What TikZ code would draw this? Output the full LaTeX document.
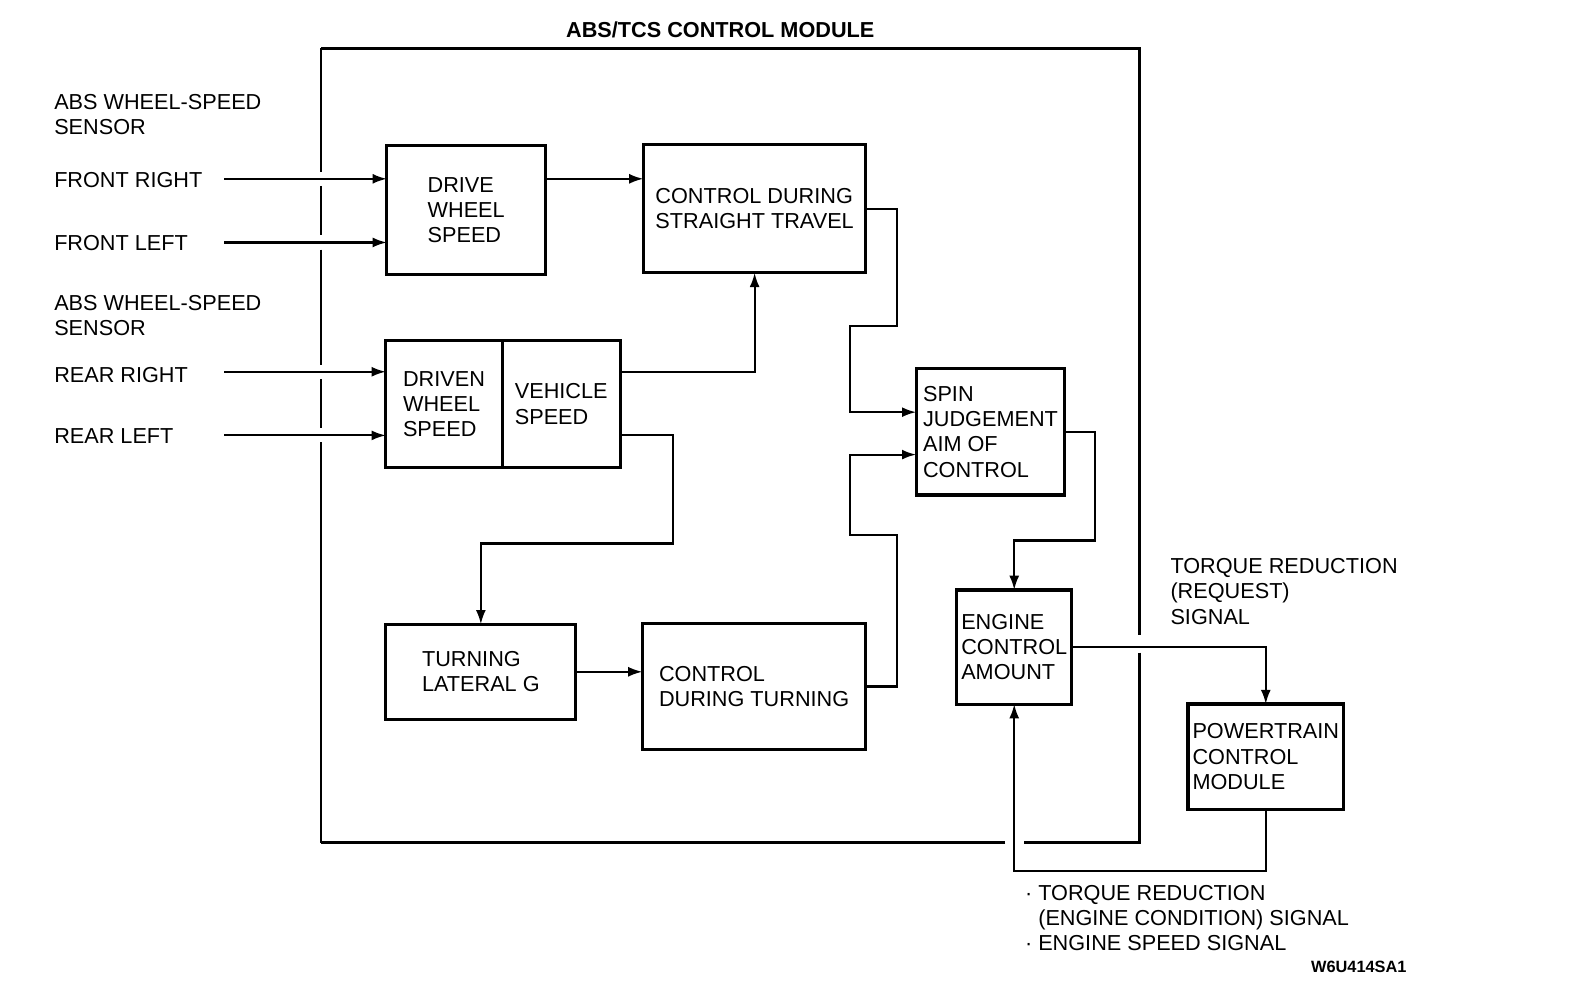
\documentclass[tikz,border=0pt]{standalone}
\usepackage{fontspec}
\setmainfont{Liberation Sans}
\usetikzlibrary{arrows.meta,positioning}

\newcommand{\diagfont}{\fontsize{6.1}{7.1}\selectfont}

\tikzset{
  blk/.style={draw, line width=0.9pt, inner sep=0pt, outer sep=0pt,
              align=left, font=\diagfont},
  lbl/.style={inner sep=0pt, align=left, font=\diagfont},
  arr/.style={-{Latex[length=4pt,width=2.8pt]}, line width=0.6pt},
  modline/.style={line width=0.65pt},
}

\begin{document}
\begin{tikzpicture}[x=0.01cm, y=-0.01cm]
\useasboundingbox (0,0) rectangle (1568,984);

% module outline, broken where the signals pass
\foreach \a/\b in {48/170, 184/233, 247/361, 375/424, 438/834}
  \draw[modline] (318,\a) -- (318,\b);
\draw[modline] (318,48) -- (1128,48) -- (1128,629);
\draw[modline] (1128,646) -- (1128,834) -- (1014,834);
\draw[modline] (995,834) -- (318,834);
\node[font=\diagfont\bfseries, inner sep=0pt] (title) at (713,30) {ABS/TCS CONTROL MODULE};

% sensors
\node[lbl, anchor=west] (absf) at (53,113.5) {ABS WHEEL-SPEED\\SENSOR};
\node[lbl, anchor=west] (fr) at (53,178) {FRONT RIGHT};
\node[lbl, anchor=west] (fl) at (53,241) {FRONT LEFT};
\node[lbl, anchor=west] (absr) at (53,312.5) {ABS WHEEL-SPEED\\SENSOR};
\node[lbl, anchor=west] (rr) at (53,371) {REAR RIGHT};
\node[lbl, anchor=west] (rl) at (53,432) {REAR LEFT};
\coordinate (frin) at (222,177);
\coordinate (flin) at (222,240);
\coordinate (rrin) at (222,368);
\coordinate (rlin) at (222,431);

% blocks
\node[blk, minimum width=1.57cm, minimum height=1.28cm] (drive) at (461.5,208) {DRIVE\\WHEEL\\SPEED};
\node[blk, minimum width=2.20cm, minimum height=1.27cm] (cst) at (747,206.5) {CONTROL DURING\\STRAIGHT TRAVEL};
\node[blk, minimum width=1.15cm, minimum height=1.26cm] (driven) at (439.5,400) {DRIVEN\\WHEEL\\SPEED};
\node[blk, minimum width=1.17cm, minimum height=1.26cm, right=0pt of driven] (veh) {VEHICLE\\SPEED};
\node[blk, minimum width=1.88cm, minimum height=0.94cm] (turn) at (476,665) {TURNING\\LATERAL G};
\node[blk, minimum width=2.21cm, minimum height=1.25cm] (ctt) at (746.5,679.5) {CONTROL\\DURING TURNING};
\node[blk, minimum width=1.47cm, minimum height=1.25cm] (spin) at (980.5,427.5) {SPIN\\JUDGEMENT\\AIM OF\\CONTROL};
\node[blk, minimum width=1.14cm, minimum height=1.13cm] (eng) at (1004,640.5) {ENGINE\\CONTROL\\AMOUNT};
\node[blk, minimum width=1.54cm, minimum height=1.04cm] (ptm) at (1253,749) {POWERTRAIN\\CONTROL\\MODULE};

% signals
\draw[arr] (frin) -- (frin -| drive.west);
\draw[arr] (flin) -- (flin -| drive.west);
\draw[arr] (rrin) -- (rrin -| driven.west);
\draw[arr] (rlin) -- (rlin -| driven.west);
\draw[arr] (drive.east |- frin) -- (cst.west |- frin);
\draw[arr] (veh.east |- rrin) -| (cst.south);
\draw[arr] (veh.east |- rlin) -| (666,538) -| (turn.north);
\draw[arr] (turn.east) -- (turn.east -| ctt.west);
\draw[arr] (cst.east) -| (888,323) -| (841,408) -- (spin.west |- 0,408);
\draw[arr] (ctt.east) -| (888,530) -| (841,450) -- (spin.west |- 0,450);
\draw[arr] (spin.east) -| (1084,535) -| (eng.north);
\draw[arr] (eng.east) -| (ptm.north);
\draw[arr] (ptm.south) |- (eng.south |- 0,862) -- (eng.south);

% signal names
\node[lbl, anchor=west] (trq) at (1158,585.5) {TORQUE REDUCTION\\(REQUEST)\\SIGNAL};
\node[lbl, anchor=west] (ecs) at (1014,908.5) {\textperiodcentered\ TORQUE REDUCTION\\\hphantom{\textperiodcentered\ }(ENGINE CONDITION) SIGNAL\\\textperiodcentered\ ENGINE SPEED SIGNAL};
\node[inner sep=0pt, anchor=east, font=\fontsize{4.6}{5.5}\selectfont\bfseries] (code) at (1393,957) {W6U414SA1};
\end{tikzpicture}
\end{document}
